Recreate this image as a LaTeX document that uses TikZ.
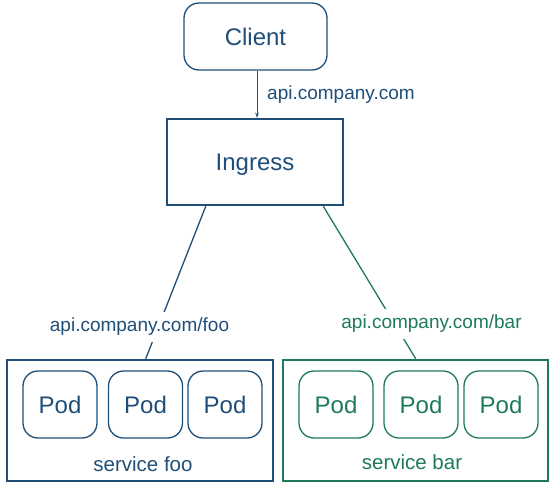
\documentclass[tikz,border=0pt]{standalone}
\usepackage{fontspec}
\setmainfont{Liberation Sans}
\usetikzlibrary{arrows.meta,calc}
\definecolor{kblue}{HTML}{1F4E79}
\definecolor{kgreen}{HTML}{1E7A5A}
\tikzset{
  roundbox/.style={draw=#1,text=#1,rounded corners=15pt,line width=1.3pt,inner sep=0pt},
  sqbox/.style={draw=#1,line width=2.5pt,inner sep=0pt},
  bigtext/.style={font=\fontsize{24}{28}\selectfont},
  lbl/.style={text=#1,fill=white,inner sep=2pt,font=\fontsize{19}{22}\selectfont},
  svctext/.style={text=#1,inner sep=0pt,font=\fontsize{20.5}{24}\selectfont},
  link/.style={draw=#1,line width=1.3pt}
}
\begin{document}
\begin{tikzpicture}[x=1pt,y=-1pt]
\useasboundingbox (0,0) rectangle (557,490);
% top nodes
\node[roundbox=kblue,bigtext,minimum width=143pt,minimum height=67pt] (client) at (255.5,36.5) {Client};
\node[sqbox=kblue,text=kblue,bigtext,text depth=0pt,minimum width=176pt,minimum height=86pt] (ingress) at (255,162) {Ingress};
% services
\node[sqbox=kblue,minimum width=266pt,minimum height=121pt] (foo) at (140,420.5) {};
\node[sqbox=kgreen,minimum width=265pt,minimum height=121pt] (bar) at (415.5,420.5) {};
% pods
\foreach \n/\x in {f1/60,f2/145.5,f3/225}{
  \node[roundbox=kblue,bigtext,minimum width=74pt,minimum height=67pt] (\n) at (\x,404.5) {Pod};
}
\foreach \n/\x in {b1/336,b2/421,b3/501}{
  \node[roundbox=kgreen,bigtext,minimum width=74pt,minimum height=67pt] (\n) at (\x,404.5) {Pod};
}
\node[svctext=kblue] (foot) at (143,464) {service foo};
\node[svctext=kgreen] (bart) at (412,462) {service bar};
% connectors
\draw[link=kblue,line width=1pt,-{Stealth[length=5pt,width=3.5pt]}] ($(client.south)+(1.5,0)$) -- ($(ingress.north)+(2,0)$);
\node[lbl=kblue,anchor=west,fill=none] (toplbl) at (265,95) {api.company.com};
\draw[link=kblue] ($(ingress.south west)+(40,0)$) -- ($(foo.north west)+(140,0)$);
\draw[link=kgreen] ($(ingress.south east)+(-21,0)$) -- ($(bar.north west)+(134,0)$);
\node[lbl=kblue,inner ysep=6pt] (foolbl) at (139.5,327) {api.company.com/foo};
\node[lbl=kgreen,inner ysep=6pt] (barlbl) at (431.5,324) {api.company.com/bar};
\end{tikzpicture}
\end{document}
